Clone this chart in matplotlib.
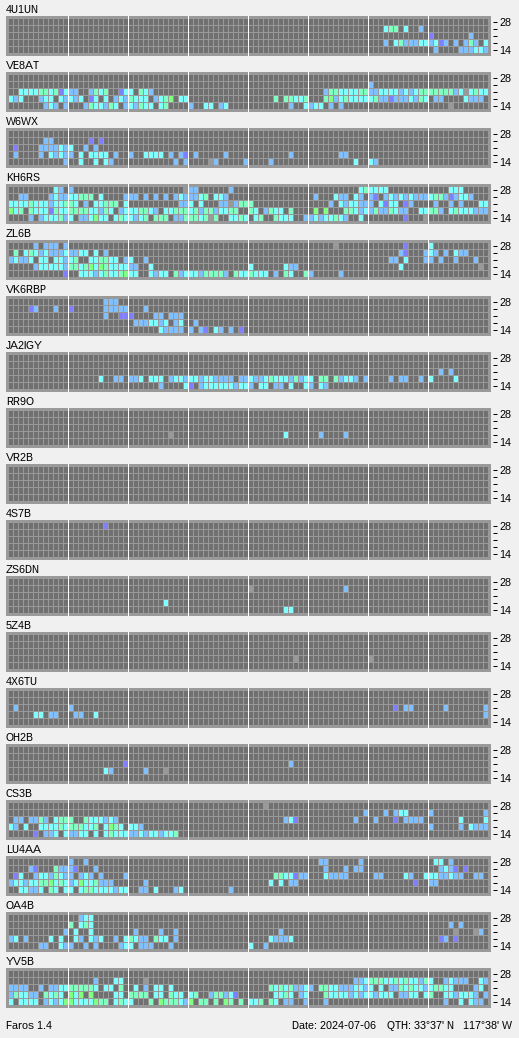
import re
import matplotlib
matplotlib.use("Agg")
import matplotlib.pyplot as plt

plt.rcParams['font.family'] = ['Liberation Sans', 'DejaVu Sans']
plt.rcParams['text.antialiased'] = True
plt.rcParams['text.hinting'] = 'native'
plt.rcParams['text.hinting_factor'] = 1

W, H = 519, 1038
BG = '#f0f0f0'; PANEL = '#999999'; EMPTY = '#707070'
COLORS = {'.': EMPTY, 'x': PANEL, 'v': '#8080ff', 'b': '#80c0ff',
          'c': '#80ffff', 'm': '#80ffc0', 'g': '#80ff80'}

# Each station: five rows, top (28 MHz) to bottom (14 MHz); tokens = level letter + 15-min slot
S_4U1UN = ["",
 "c75 m76 m77 c79 b82",
 "v84 b92",
 "b75 c77 m78 b79 b80 b81 c82 c83 b84 c85 v86 b87 b89 b91 m92 b93 c95",
 "b85 b90 b91 b92 c93 c94 b95"]
S_VE8AT = ["",
 "b72",
 "c2 c3 c4 c5 m6 m7 c8 m9 v10 c11 b12 b13 b16 m17 c18 m19 v22 c23 c24 m26 c27 b28 b63 m64 m65 c66 c67 c68 c69 m70 m71 b72 b73 c74 c75 c76 c77 b78 c79 b80 c81 m82 m83 m84 m85 m86 m87 m88 b89 c90 x91 c92 m93 c94 c95",
 "c0 b1 c2 b6 c7 c8 c10 b11 c12 b13 c14 v16 c17 c19 b21 c22 b23 m24 c25 c26 c27 b29 c30 m31 g32 c34 c35 m53 m55 m56 c57 c58 m59 m63 g64 b65 c66 m67 c68 c69 c70 c71 c72 m73 b74 b75 v76 b77 b78 b79 c80 b81 m82 c83 b85 b86 c91 b92 b93 b94",
 "b7 c8 b9 b11 b15 m16 c17 c18 b19 m20 c21 b23 c24 b25 m26 c27 c28 c30 m31 b36 c39 c40 b42 c43 b56 c59 b60 c61 c62 b64 b66 x88"]
S_W6WX = ["",
 "b7 b8 v16 v18",
 "v1 b6 b7 b8 b9 c10 b11 c12 b15 b17",
 "b1 b6 c8 b9 c10 b11 b12 c14 c16 c17 c18 c19 b21 b24 c27 c28 c29 c30 b32 b34 v35 b37 b43 b56 b66 b67",
 "b11 c14 c17 c19 b20 b33 b35 x40 b41 b47 b52 c69 c72 b73"]
S_KH6RS = [
 "c9 b10 b12 x35 b36 b37 b44 c70 m71 c72 c73 c74 c75 c88 c89 c90",
 "b2 b3 b8 c9 b10 b11 c12 c13 m14 m15 m16 c18 b23 b24 b25 b27 b29 b31 b33 c34 b35 b36 b37 c38 m39 c41 c42 b43 b61 c65 b66 b67 c69 b70 b72 v73 b75 c76 b77 c78 b79 c80 b81 b82 b83 c84 m85 m86 b87 v88 b89 c90 c91 b92",
 "c0 c1 c2 c3 m4 c5 c6 c7 b8 c9 c10 m11 m12 c13 b15 c17 c18 m19 m20 m21 c23 b34 b35 c36 c38 b42 b43 x44 b45 m46 m47 m48 b64 c66 b67 c68 c69 b70 b71 b72 c74 v75 c76 c77 v79 b80 b85 b88 b90 c94 c95",
 "g0 c1 m2 m4 c5 c6 c7 v8 m9 c10 c11 m12 m13 m14 m15 c16 c17 b18 m19 c20 b22 c23 c24 c25 m26 m27 c28 b29 c31 c32 m33 m34 m35 c36 m37 b38 m39 m40 b41 c42 c43 m44 m45 m48 c49 b51 m52 c53 c54 m56 g61 g63 m67 m68 c69 b70 c71 b72 m73 b74 b75 m76 c77 b78 b79 c82 c83 m84 m85 b86 c88 m89 c90 c91 c92 b93 b94 b95",
 "b4 b6 c7 c8 c9 m10 b11 c12 b14 b15 c16 g17 c18 c19 c21 m22 c23 c24 b25 c26 m27 m29 m30 m31 b33 b34 m35 m36 m37 c38 m39 x40 m41 c44 c45 m46 c47 c49 m50 m53 c54 c55 c56 b59 b60 c61 b62 c63 c64 m65 c66 b67 c70 v79 x83"]
S_ZL6B = [
 "b5 b7 b8 b9 b11 x65 v79 c84",
 "m1 c3 m4 c5 b6 c7 b8 b9 b10 c11 b12 b13 c14 c15 c17 b19 b78 v79 b83 c84 b85 b87 c89 b90 b91",
 "b0 c1 b2 b3 c4 c6 c7 c9 c10 b11 c12 m13 c16 c17 m18 m19 c20 c21 b23 c24 b27 b76 b77 c79 b83 b84 b86 b89 b93",
 "b5 c6 c7 c8 c9 c10 b11 m12 m13 c14 m15 g16 c17 g18 m19 c20 c21 c22 c23 b24 b25 c28 c48 c55 b56 b57 c78 x94",
 "v11 c14 c15 c16 b17 c18 m19 c20 c21 m22 g23 c24 c25 c28 b29 c30 c31 m33 b34 c35 c36 c37 b38 m39 m40 m41 m42 b43 m45 c46 c47 m48 c49 c50 c51 b53 m55 c56 m59 b60 b66"]
S_VK6RBP = [
 "b19 b20 b21",
 "v4 b5 b9 v12 b19 b20 b21 b22 b23 b27",
 "b19 v22 v23 v24 b29 b30 b32 b33 b34",
 "b25 b26 b27 c28 c29 b30 c31 b33 c34 b37",
 "c30 b31 b32 b33 b34 b36 b38 v39 c41 b42 b44 v46"]
S_JA2IGY = ["", "",
 "b86 b88",
 "c18 b21 b22 b24 b25 c26 c28 c29 c30 b32 c33 c34 b35 c36 c37 b38 c39 c40 b41 b42 b43 b44 b46 b47 c48 b49 b50 c51 m52 c53 c54 c55 b56 m57 b58 c59 c60 m62 m63 m65 b66 c67 c68 b69 b71 b76 b78 b79 b82 c84 c89",
 "b30 c35 v36 b38 c39 c40 c41 c42 c43 c44 b45 c46 c47 b48 c50 c51 b53 b54 c56 c59 b60 c62 b63"]
S_RR9O = ["", "", "", "x32 c55 b62 b67", ""]
S_VR2B = ["", "", "", "", ""]
S_4S7B = ["v19", "", "", "", ""]
S_ZS6DN = ["", "x48 b67", "", "c31", "c55 c56"]
S_5Z4B = ["", "", "", "x57 x72", ""]
S_4X6TU = ["", "",
 "b1 b12 v77 b79 b80 b87 b95",
 "c5 c6 b8 b9 b13 b14 c17 b95", ""]
S_OH2B = ["", "", "v23 b56", "c19 b20 b27 x31", ""]
S_CS3B = [
 "x51",
 "b71 b75 b77 c78 c79 b84 b95",
 "b1 b2 b4 b5 m6 b7 c9 m10 m11 m12 m15 c16 c17 c18 b19 c20 b21 b55 c56 v57 b69 b73 v77 b79 b80 b81 b82 c90 c95",
 "c0 b1 c3 c6 c7 c8 c9 m10 c11 m12 m13 m14 c15 c16 m17 c19 g20 m21 c22 c24 c25 b26 b84 b90 c92 b93 b94 b95",
 "v5 b7 b8 c9 c11 b12 b13 c14 c15 c17 c19 m20 c21 c22 c23 b24 b25 c26 b27 c28 c29 b30 c31 c32 m33"]
S_LU4AA = [
 "b12 b15 b62 b63 b70 c85 c86 b88",
 "b4 v5 m9 b10 b11 b12 v13 b17 b63 b67 b69 b70 b86 c87 b88 v89 v91",
 "v1 c2 b5 c6 c7 b8 m9 c10 b11 b12 b14 c15 b16 b18 b23 m53 m54 c55 c56 v57 b58 b59 c63 b64 b65 b66 b67 b73 b74 c79 b80 c83 c84 c85 b86 b87 c88 b89 b90 b93 b94",
 "b0 c1 c2 b3 c4 c5 m6 m7 g8 c9 m10 c11 b12 c13 g14 c15 c16 m17 b18 b19 b20 b27 c52 c54 b56 b57 v81 b84 b85",
 "c2 c3 b4 b5 c6 m8 c9 c11 c12 c14 m15 m16 c17 c18 c19 c20 b21 c22 c23 b26 b27 c29 b33 c34 b44"]
S_OA4B = [
 "b14 c15 c16",
 "m12 c14 m15 c16 b88 b90",
 "b11 c13 c16 b25 b30 b33 b54 x89 x93 b94",
 "b0 c1 b3 c8 c10 c13 b14 c16 b17 c18 b21 c23 m24 c25 b26 b27 m29 c30 c31 b33 c52 b53 b54 b55 c56 v86 b87 v89",
 "b6 b7 c10 b11 b12 b15 b17 b22 c23 c24 b26 b27 b28 b32 c48 b51"]
S_YV5B = ["",
 "b17 c21 c22 x27 b69 b70 c71 m72 m73 m74 c75 c76 m77 c78 m79 c80 c81 b82 m83 c84 b87 c88 b89 b90 b91 c94 b95",
 "b0 b1 b2 b3 b6 b8 b9 c10 c11 m12 m13 m14 m15 m16 c17 c19 c20 m22 c25 b27 c29 c30 c32 m52 c53 m54 c55 m56 b57 b58 c59 b60 m62 m63 c64 c65 b66 b67 b68 c69 c70 b71 c72 c74 b76 b77 m78 c79 m80 c81 c82 b83 c84 m85 m86 c87 c88 b93 c94",
 "b0 m1 c2 c3 b4 b5 m7 c8 m9 c10 g12 c13 g14 g16 c21 c22 m24 m25 m26 m27 c29 c30 m32 c33 c34 c36 m37 b40 m41 m42 b43 c44 v45 c53 c54 m55 c56 b58 c59 m63 c64 c65 c66 c67 b68 c69 b70 c71 c72 b73 c74 c75 c76 b78 b79 c80 c81 c83 m84 c87 c88 b89 c90 c91 c92 b93 b95",
 "c0 c2 c3 c4 c5 b7 c8 b9 c10 g11 g12 c13 c14 c15 c16 g17 m18 m19 c21 m22 c23 c24 m28 g30 m31 m32 m33 c34 b35 g36 m38 m39 m41 g43 m44 m46 c48 c49 m50 m52 c53 b55 b56 b59 b63 b87 c90 c92 b93 b94"]

STATIONS = ['4U1UN', 'VE8AT', 'W6WX', 'KH6RS', 'ZL6B', 'VK6RBP', 'JA2IGY', 'RR9O', 'VR2B',
            '4S7B', 'ZS6DN', '5Z4B', '4X6TU', 'OH2B', 'CS3B', 'LU4AA', 'OA4B', 'YV5B']
ROWS = [S_4U1UN, S_VE8AT, S_W6WX, S_KH6RS, S_ZL6B, S_VK6RBP, S_JA2IGY, S_RR9O, S_VR2B,
        S_4S7B, S_ZS6DN, S_5Z4B, S_4X6TU, S_OH2B, S_CS3B, S_LU4AA, S_OA4B, S_YV5B]
TICK_LABELS = ['14', '', '', '', '28']

fig = plt.figure(figsize=(W / 100, H / 100), dpi=100, facecolor=BG)
FS = 7.7
PX = 72 / 100

for k, (name, rows) in enumerate(zip(STATIONS, ROWS)):
    top = 16 + 56 * k
    ax = fig.add_axes([6 / W, 1 - (top + 40) / H, 485 / W, 40 / H], facecolor=PANEL)
    ax.set_xlim(-0.6, 96.4)
    ax.set_ylim(-3 / 7, 5 + 2 / 7)
    groups = {key: ([], []) for key in COLORS}
    filled = set()
    for i, row in enumerate(rows):
        r = 4 - i
        for tok in row.split():
            m = re.fullmatch(r'([a-z])(\d+)', tok)
            c = int(m.group(2))
            groups[m.group(1)][0].append(c)
            groups[m.group(1)][1].append(r)
            filled.add((c, r))
    for r in range(5):
        for c in range(96):
            if (c, r) not in filled:
                groups['.'][0].append(c)
                groups['.'][1].append(r)
    for key, (xs, ys) in groups.items():
        if xs:
            ax.bar(xs, [6 / 7] * len(xs), width=0.8, bottom=ys, align='edge',
                   color=COLORS[key], linewidth=0, snap=True)
    for j in range(1, 8):
        ax.axvline(12 * j - 0.15, color='white', lw=1 * PX, snap=True, zorder=5)
    for s in ['left', 'top', 'bottom']:
        ax.spines[s].set_visible(False)
    ax.spines['right'].set_color('none')
    ax.spines['right'].set_position(('outward', 2 * PX))
    ax.set_xticks([])
    ax.yaxis.tick_right()
    ax.set_yticks([r + 3 / 7 for r in range(5)])
    ax.set_yticklabels(TICK_LABELS, fontsize=FS)
    ax.tick_params(axis='y', length=4 * PX, width=1 * PX, pad=2.5 * PX, color='black')
    ax.annotate(name, xy=(0, 1), xycoords='axes fraction', xytext=(0, 3),
                textcoords='offset pixels', fontsize=FS, ha='left', va='baseline', color='black')

fig.text(6 / W, 1 - 1029 / H, 'Faros 1.4', fontsize=FS, ha='left', va='baseline')
fig.text(292 / W, 1 - 1029 / H, 'Date: 2024-07-06', fontsize=FS, ha='left', va='baseline')
fig.text(387 / W, 1 - 1029 / H, "QTH: 33°37' N   117°38' W", fontsize=FS, ha='left', va='baseline')

fig.savefig('out.png', dpi=100, facecolor=BG)
